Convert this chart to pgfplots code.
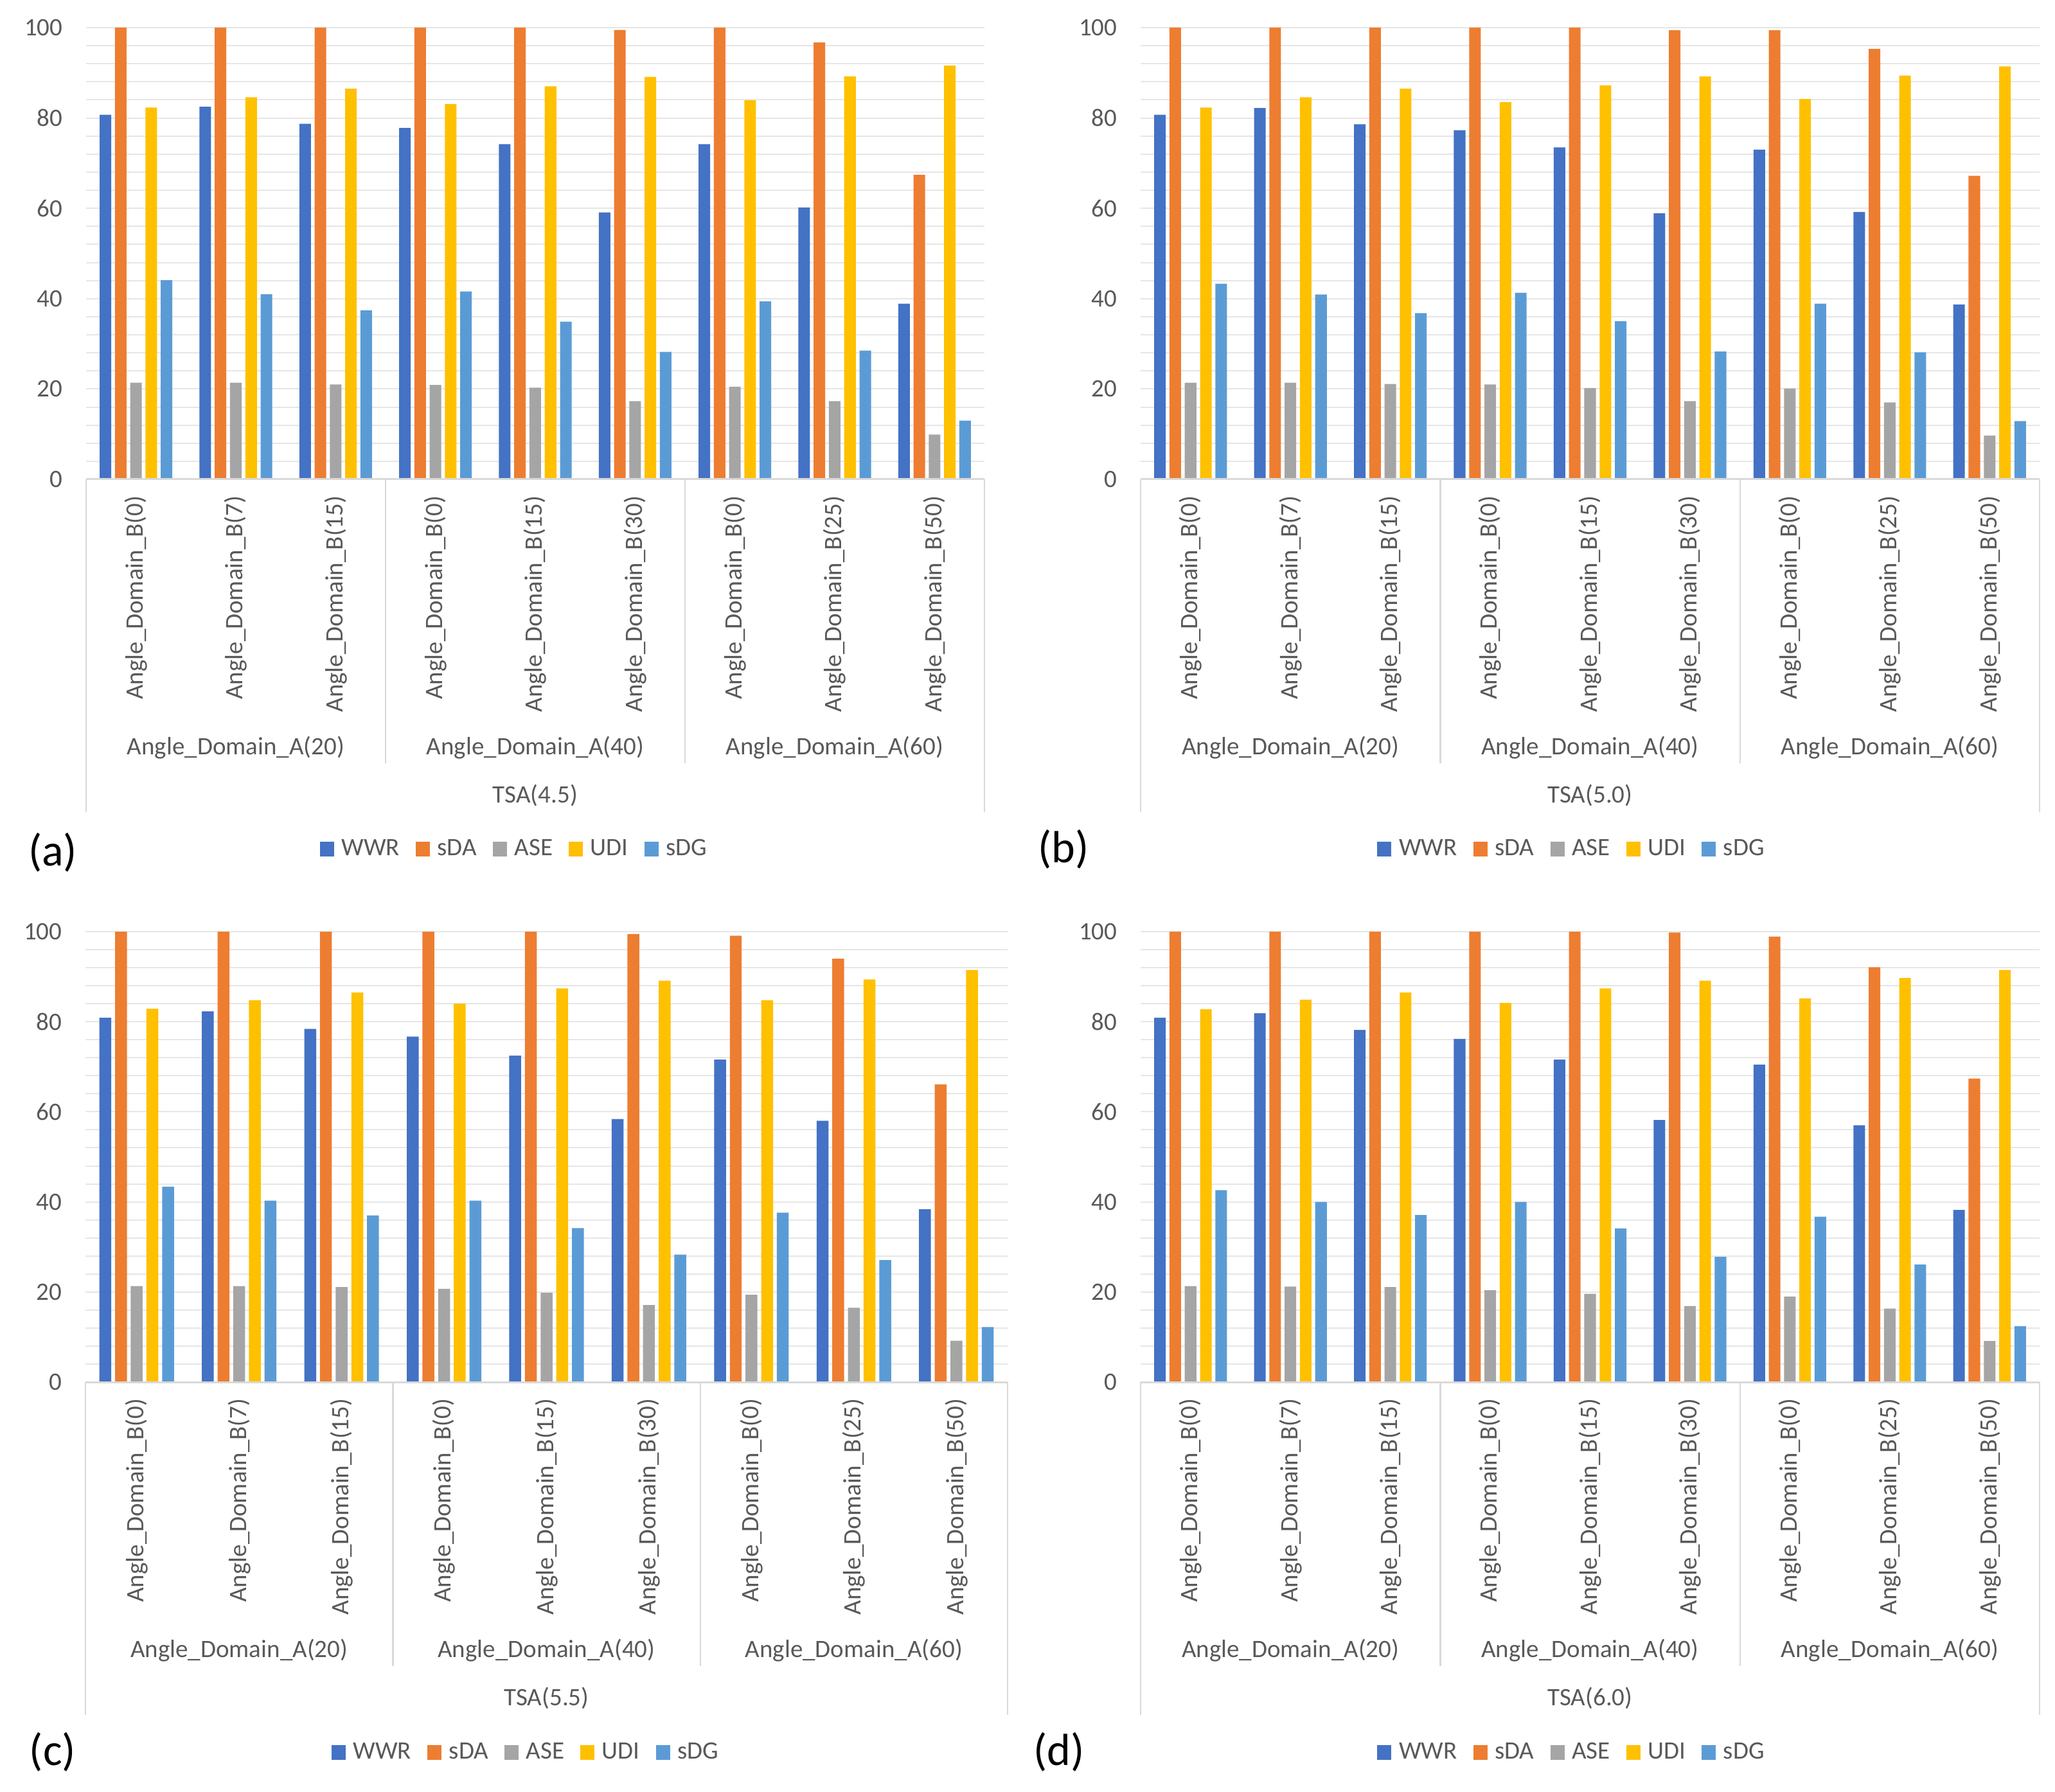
\documentclass[border=0pt]{standalone}
\usepackage{fontspec}
\setmainfont{Carlito}
\usepackage{pgfplots}
\usepackage{pgfplotstable}
\pgfplotsset{compat=1.18}
\definecolor{cWWR}{HTML}{4472C4}
\definecolor{csDA}{HTML}{ED7D31}
\definecolor{cASE}{HTML}{A5A5A5}
\definecolor{cUDI}{HTML}{FFC000}
\definecolor{csDG}{HTML}{5B9BD5}
\definecolor{txt}{HTML}{595959}
\definecolor{gridc}{HTML}{E6E6E6}
\definecolor{sepc}{HTML}{D9D9D9}
\newcommand{\fs}{\fontsize{11.7}{14}\selectfont}

\pgfplotstableread{
x WWR sDA ASE UDI sDG
0 80.7 100 21.4 82.3 44.1
1 82.5 100 21.4 84.6 41.0
2 78.7 100 21.0 86.5 37.4
3 77.8 100 20.9 83.1 41.6
4 74.2 100 20.3 87.0 34.9
5 59.1 99.5 17.3 89.1 28.2
6 74.2 100 20.5 83.9 39.4
7 60.2 96.7 17.3 89.2 28.5
8 38.9 67.4 9.9 91.6 13.0
}\tA
\pgfplotstableread{
x WWR sDA ASE UDI sDG
0 80.7 100 21.4 82.3 43.3
1 82.2 100 21.4 84.6 40.9
2 78.6 100 21.1 86.5 36.8
3 77.3 100 21.0 83.5 41.3
4 73.5 100 20.2 87.2 35.0
5 58.9 99.4 17.3 89.2 28.3
6 73.0 99.4 20.1 84.2 38.9
7 59.2 95.3 17.0 89.4 28.1
8 38.7 67.2 9.7 91.4 12.9
}\tB
\pgfplotstableread{
x WWR sDA ASE UDI sDG
0 80.9 100 21.3 82.9 43.4
1 82.3 100 21.3 84.8 40.3
2 78.4 100 21.1 86.5 37.0
3 76.7 100 20.7 84.0 40.3
4 72.5 100 19.8 87.4 34.2
5 58.4 99.5 17.1 89.1 28.3
6 71.6 99.1 19.4 84.8 37.6
7 58.0 94.0 16.5 89.4 27.1
8 38.4 66.1 9.2 91.5 12.2
}\tC
\pgfplotstableread{
x WWR sDA ASE UDI sDG
0 80.9 100 21.3 82.8 42.6
1 81.9 100 21.2 84.9 40.0
2 78.2 100 21.1 86.5 37.1
3 76.2 100 20.4 84.2 40.0
4 71.6 100 19.6 87.4 34.1
5 58.2 99.8 16.9 89.1 27.8
6 70.5 98.9 19.0 85.2 36.7
7 57.0 92.1 16.3 89.7 26.1
8 38.2 67.4 9.1 91.5 12.4
}\tD

\pgfplotsset{
  bars/.style={ybar, bar width=0.116, draw=none,
    legend image code/.code={\fill[##1] (0pt,-3.4pt) rectangle (6.6pt,3.4pt);}},
  panel/.style={
    scale only axis, anchor=south west,
    ymin=0, ymax=100, xmin=-0.5, xmax=8.5,
    ytick={0,20,...,100}, minor y tick num=4,
    ymajorgrids, yminorgrids,
    major grid style={draw=gridc, line width=0.6pt},
    minor grid style={draw=gridc, line width=0.6pt},
    xtick={0,...,8},
    xticklabels={Angle\_Domain\_B(0),Angle\_Domain\_B(7),Angle\_Domain\_B(15),Angle\_Domain\_B(0),Angle\_Domain\_B(15),Angle\_Domain\_B(30),Angle\_Domain\_B(0),Angle\_Domain\_B(25),Angle\_Domain\_B(50)},
    axis line style={draw=none},
    major tick length=0pt, minor tick length=0pt,
    tick style={draw=none},
    xticklabel style={yshift=-7.5pt, rotate=90, anchor=east, inner sep=0pt, font=\fs, text=txt},
    yticklabel style={xshift=-10.8pt, anchor=east, inner sep=0pt, font=\fs, text=txt},
    /pgf/number format/assume math mode=true,
    clip=false,
    legend columns=5,
    legend style={draw=none, fill=none, font=\fs, text=txt, anchor=center,
      inner sep=0pt, /tikz/column sep=1.5pt,
      /tikz/every even column/.append style={column sep=5.5pt}},
  }
}

% #1 table, #2 x, #3 y, #4 width, #5 height, #6 TSA, #7 legend x, #8 legend y
\newcommand{\panel}[8]{%
\begin{axis}[panel, at={(#2,#3)}, width=#4, height=#5,
  legend style={at={(#7,#8)}}]
\addplot[bars, fill=cWWR, bar shift=-0.306] table[x=x,y=WWR]{#1};
\addplot[bars, fill=csDA, bar shift=-0.153] table[x=x,y=sDA]{#1};
\addplot[bars, fill=cASE, bar shift=0] table[x=x,y=ASE]{#1};
\addplot[bars, fill=cUDI, bar shift=0.153] table[x=x,y=UDI]{#1};
\addplot[bars, fill=csDG, bar shift=0.306] table[x=x,y=sDG]{#1};
\legend{WWR,sDA,ASE,UDI,sDG}
\draw[sepc, line width=0.9pt] (axis cs:-0.5,0) -- (axis cs:8.5,0);
\draw[sepc, line width=0.7pt] (axis cs:-0.5,0) -- ++(0pt,-155.4pt);
\draw[sepc, line width=0.7pt] (axis cs:8.5,0) -- ++(0pt,-155.4pt);
\draw[sepc, line width=0.7pt] (axis cs:2.5,0) -- ++(0pt,-132.6pt);
\draw[sepc, line width=0.7pt] (axis cs:5.5,0) -- ++(0pt,-132.6pt);
\node[font=\fs, text=txt, yshift=-125.4pt] at (axis cs:1,0) {Angle\_Domain\_A(20)};
\node[font=\fs, text=txt, yshift=-125.4pt] at (axis cs:4,0) {Angle\_Domain\_A(40)};
\node[font=\fs, text=txt, yshift=-125.4pt] at (axis cs:7,0) {Angle\_Domain\_A(60)};
\node[font=\fs, text=txt, yshift=-147.6pt] at (axis cs:4,0) {#6};
\end{axis}}

\begin{document}
\begin{tikzpicture}
\path[use as bounding box] (0pt,0pt) rectangle (959.4pt,836.4pt);
\panel{\tA}{40.2pt}{612.6pt}{419.4pt}{210.9pt}{TSA(4.5)}{0.478}{-0.819}
\panel{\tB}{532.5pt}{612.6pt}{419.7pt}{210.9pt}{TSA(5.0)}{0.481}{-0.819}
\panel{\tC}{39.9pt}{191.1pt}{430.5pt}{210.3pt}{TSA(5.5)}{0.479}{-0.822}
\panel{\tD}{532.5pt}{191.1pt}{419.7pt}{210.3pt}{TSA(6.0)}{0.481}{-0.822}
\node[font=\fontsize{21}{25}\selectfont] at (24.6pt,438.3pt) {(a)};
\node[font=\fontsize{21}{25}\selectfont] at (496.5pt,439.8pt) {(b)};
\node[font=\fontsize{21}{25}\selectfont] at (24.6pt,18.3pt) {(c)};
\node[font=\fontsize{21}{25}\selectfont] at (494.4pt,18.3pt) {(d)};
\end{tikzpicture}
\end{document}
